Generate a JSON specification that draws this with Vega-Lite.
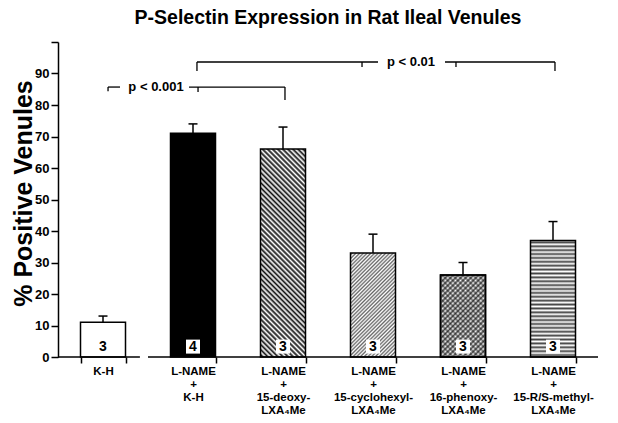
{
  "$schema": "https://vega.github.io/schema/vega-lite/v6.json",
  "width": 540,
  "height": 315,
  "autosize": {"type": "none"},
  "padding": {"left": 58, "top": 42, "right": 20, "bottom": 66},
  "background": "white",
  "config": {"view": {"stroke": null}, "font": "Liberation Sans"},
  "title": {"text": "P-Selectin Expression in Rat Ileal Venules", "fontSize": 19.5, "fontWeight": "bold", "font": "Liberation Sans", "color": "black", "anchor": "middle", "offset": 8},
  "datasets": {
    "bars": [
      {"id": "kh", "label": "K-H", "value": 11, "errTop": 13, "n": 3},
      {"id": "lk", "label": "L-NAME|+|K-H", "value": 71, "errTop": 74, "n": 4},
      {"id": "deoxy", "label": "L-NAME|+|15-deoxy-|LXA₄Me", "value": 66, "errTop": 73, "n": 3},
      {"id": "cyc", "label": "L-NAME|+|15-cyclohexyl-|LXA₄Me", "value": 33, "errTop": 39, "n": 3},
      {"id": "phen", "label": "L-NAME|+|16-phenoxy-|LXA₄Me", "value": 26, "errTop": 30, "n": 3},
      {"id": "meth", "label": "L-NAME|+|15-R/S-methyl-|LXA₄Me", "value": 37, "errTop": 43, "n": 3}
    ],
    "segs": [
      {"x1": 1.544, "x2": 3.556, "y1": 93.65, "y2": 93.65},
      {"x1": 4.3, "x2": 5.522, "y1": 93.65, "y2": 93.65},
      {"x1": 1.544, "x2": 1.544, "y1": 93.65, "y2": 90.8},
      {"x1": 5.522, "x2": 5.522, "y1": 93.65, "y2": 90.8},
      {"x1": 3.378, "x2": 3.378, "y1": 93.65, "y2": 92.1},
      {"x1": 4.422, "x2": 4.422, "y1": 93.65, "y2": 92.1},
      {"x1": 0.556, "x2": 0.689, "y1": 85.7, "y2": 85.7},
      {"x1": 1.456, "x2": 2.522, "y1": 85.7, "y2": 85.7},
      {"x1": 0.556, "x2": 0.556, "y1": 85.7, "y2": 84.4},
      {"x1": 1.556, "x2": 1.556, "y1": 85.7, "y2": 84.1},
      {"x1": 2.522, "x2": 2.522, "y1": 85.7, "y2": 81.6},
      {"x1": 0, "x2": 0.91, "y1": 0, "y2": 0},
      {"x1": 1.0, "x2": 6.0, "y1": 0, "y2": 0}
    ],
    "plabels": [
      {"x": 3.922, "y": 93.65, "text": "p < 0.01"},
      {"x": 1.089, "y": 85.7, "text": "p < 0.001"}
    ]
  },
  "resolve": {"scale": {"x": "independent"}, "axis": {"x": "independent"}},
  "layer": [
    {
      "data": {"name": "bars"},
      "encoding": {
        "x": {
          "field": "label", "type": "nominal", "sort": null, "title": null,
          "scale": {"type": "band", "paddingInner": 0.5, "paddingOuter": 0.25},
          "axis": {"labelExpr": "split(datum.label, '|')", "labelAngle": 0, "tickBand": "extent", "domain": false, "ticks": true, "tickSize": 6, "tickWidth": 1.5, "tickColor": "black", "labelFontSize": 11.5, "labelFontWeight": "bold", "labelColor": "black", "labelFont": "Liberation Sans", "labelLineHeight": 13, "labelPadding": 2, "labelOverlap": false, "labelLimit": 0, "title": null}
        }
      },
      "layer": [
        {
          "mark": {"type": "bar", "stroke": "black", "strokeWidth": 1.5},
          "encoding": {
            "y": {"field": "value", "type": "quantitative", "title": "% Positive Venules",
              "scale": {"domain": [0, 100], "nice": false},
              "axis": {"values": [0, 10, 20, 30, 40, 50, 60, 70, 80, 90, 100], "labelExpr": "datum.value == 100 ? '' : datum.label", "labelOverlap": false, "grid": false, "tickSize": 7, "tickWidth": 1.5, "tickColor": "black", "domainWidth": 1.5, "domainColor": "black", "labelColor": "black", "labelFontSize": 13, "labelFontWeight": "bold", "labelFont": "Liberation Sans", "labelPadding": 2, "titleFontSize": 25, "titleFontWeight": "bold", "titleFont": "Liberation Sans", "titleColor": "black", "titleX": -35, "titleY": 151, "titleAngle": -90, "titleAlign": "center", "titleBaseline": "middle"}
            },
            "fill": {
              "condition": [
                {"test": "datum.id === 'lk'", "value": "black"},
                {"test": "datum.id === 'deoxy'", "value": {"gradient": "linear", "x1": 0, "y1": 1, "x2": 0.2515, "y2": -0.162, "stops": [
                  {"offset": 0, "color": "#fff"}, {"offset": 0.01, "color": "#111"}, {"offset": 0.02, "color": "#fff"}, {"offset": 0.03, "color": "#111"}, {"offset": 0.04, "color": "#fff"}, {"offset": 0.05, "color": "#111"}, {"offset": 0.06, "color": "#fff"}, {"offset": 0.07, "color": "#111"}, {"offset": 0.08, "color": "#fff"}, {"offset": 0.09, "color": "#111"},
                  {"offset": 0.1, "color": "#fff"}, {"offset": 0.11, "color": "#111"}, {"offset": 0.12, "color": "#fff"}, {"offset": 0.13, "color": "#111"}, {"offset": 0.14, "color": "#fff"}, {"offset": 0.15, "color": "#111"}, {"offset": 0.16, "color": "#fff"}, {"offset": 0.17, "color": "#111"}, {"offset": 0.18, "color": "#fff"}, {"offset": 0.19, "color": "#111"},
                  {"offset": 0.2, "color": "#fff"}, {"offset": 0.21, "color": "#111"}, {"offset": 0.22, "color": "#fff"}, {"offset": 0.23, "color": "#111"}, {"offset": 0.24, "color": "#fff"}, {"offset": 0.25, "color": "#111"}, {"offset": 0.26, "color": "#fff"}, {"offset": 0.27, "color": "#111"}, {"offset": 0.28, "color": "#fff"}, {"offset": 0.29, "color": "#111"},
                  {"offset": 0.3, "color": "#fff"}, {"offset": 0.31, "color": "#111"}, {"offset": 0.32, "color": "#fff"}, {"offset": 0.33, "color": "#111"}, {"offset": 0.34, "color": "#fff"}, {"offset": 0.35, "color": "#111"}, {"offset": 0.36, "color": "#fff"}, {"offset": 0.37, "color": "#111"}, {"offset": 0.38, "color": "#fff"}, {"offset": 0.39, "color": "#111"},
                  {"offset": 0.4, "color": "#fff"}, {"offset": 0.41, "color": "#111"}, {"offset": 0.42, "color": "#fff"}, {"offset": 0.43, "color": "#111"}, {"offset": 0.44, "color": "#fff"}, {"offset": 0.45, "color": "#111"}, {"offset": 0.46, "color": "#fff"}, {"offset": 0.47, "color": "#111"}, {"offset": 0.48, "color": "#fff"}, {"offset": 0.49, "color": "#111"},
                  {"offset": 0.5, "color": "#fff"}, {"offset": 0.51, "color": "#111"}, {"offset": 0.52, "color": "#fff"}, {"offset": 0.53, "color": "#111"}, {"offset": 0.54, "color": "#fff"}, {"offset": 0.55, "color": "#111"}, {"offset": 0.56, "color": "#fff"}, {"offset": 0.57, "color": "#111"}, {"offset": 0.58, "color": "#fff"}, {"offset": 0.59, "color": "#111"},
                  {"offset": 0.6, "color": "#fff"}, {"offset": 0.61, "color": "#111"}, {"offset": 0.62, "color": "#fff"}, {"offset": 0.63, "color": "#111"}, {"offset": 0.64, "color": "#fff"}, {"offset": 0.65, "color": "#111"}, {"offset": 0.66, "color": "#fff"}, {"offset": 0.67, "color": "#111"}, {"offset": 0.68, "color": "#fff"}, {"offset": 0.69, "color": "#111"},
                  {"offset": 0.7, "color": "#fff"}, {"offset": 0.71, "color": "#111"}, {"offset": 0.72, "color": "#fff"}, {"offset": 0.73, "color": "#111"}, {"offset": 0.74, "color": "#fff"}, {"offset": 0.75, "color": "#111"}, {"offset": 0.76, "color": "#fff"}, {"offset": 0.77, "color": "#111"}, {"offset": 0.78, "color": "#fff"}, {"offset": 0.79, "color": "#111"},
                  {"offset": 0.8, "color": "#fff"}, {"offset": 0.81, "color": "#111"}, {"offset": 0.82, "color": "#fff"}, {"offset": 0.83, "color": "#111"}, {"offset": 0.84, "color": "#fff"}, {"offset": 0.85, "color": "#111"}, {"offset": 0.86, "color": "#fff"}, {"offset": 0.87, "color": "#111"}, {"offset": 0.88, "color": "#fff"}, {"offset": 0.89, "color": "#111"},
                  {"offset": 0.9, "color": "#fff"}, {"offset": 0.91, "color": "#111"}, {"offset": 0.92, "color": "#fff"}, {"offset": 0.93, "color": "#111"}, {"offset": 0.94, "color": "#fff"}, {"offset": 0.95, "color": "#111"}, {"offset": 0.96, "color": "#fff"}, {"offset": 0.97, "color": "#111"}, {"offset": 0.98, "color": "#fff"}, {"offset": 0.99, "color": "#111"},
                  {"offset": 1, "color": "#fff"}]}},
                {"test": "datum.id === 'cyc'", "value": {"gradient": "linear", "x1": 0, "y1": 0, "x2": 0.5221, "y2": 1.2067, "stops": [
                  {"offset": 0, "color": "#fff"}, {"offset": 0.0125, "color": "#666"}, {"offset": 0.025, "color": "#fff"}, {"offset": 0.0375, "color": "#666"}, {"offset": 0.05, "color": "#fff"}, {"offset": 0.0625, "color": "#666"}, {"offset": 0.075, "color": "#fff"}, {"offset": 0.0875, "color": "#666"},
                  {"offset": 0.1, "color": "#fff"}, {"offset": 0.1125, "color": "#666"}, {"offset": 0.125, "color": "#fff"}, {"offset": 0.1375, "color": "#666"}, {"offset": 0.15, "color": "#fff"}, {"offset": 0.1625, "color": "#666"}, {"offset": 0.175, "color": "#fff"}, {"offset": 0.1875, "color": "#666"},
                  {"offset": 0.2, "color": "#fff"}, {"offset": 0.2125, "color": "#666"}, {"offset": 0.225, "color": "#fff"}, {"offset": 0.2375, "color": "#666"}, {"offset": 0.25, "color": "#fff"}, {"offset": 0.2625, "color": "#666"}, {"offset": 0.275, "color": "#fff"}, {"offset": 0.2875, "color": "#666"},
                  {"offset": 0.3, "color": "#fff"}, {"offset": 0.3125, "color": "#666"}, {"offset": 0.325, "color": "#fff"}, {"offset": 0.3375, "color": "#666"}, {"offset": 0.35, "color": "#fff"}, {"offset": 0.3625, "color": "#666"}, {"offset": 0.375, "color": "#fff"}, {"offset": 0.3875, "color": "#666"},
                  {"offset": 0.4, "color": "#fff"}, {"offset": 0.4125, "color": "#666"}, {"offset": 0.425, "color": "#fff"}, {"offset": 0.4375, "color": "#666"}, {"offset": 0.45, "color": "#fff"}, {"offset": 0.4625, "color": "#666"}, {"offset": 0.475, "color": "#fff"}, {"offset": 0.4875, "color": "#666"},
                  {"offset": 0.5, "color": "#fff"}, {"offset": 0.5125, "color": "#666"}, {"offset": 0.525, "color": "#fff"}, {"offset": 0.5375, "color": "#666"}, {"offset": 0.55, "color": "#fff"}, {"offset": 0.5625, "color": "#666"}, {"offset": 0.575, "color": "#fff"}, {"offset": 0.5875, "color": "#666"},
                  {"offset": 0.6, "color": "#fff"}, {"offset": 0.6125, "color": "#666"}, {"offset": 0.625, "color": "#fff"}, {"offset": 0.6375, "color": "#666"}, {"offset": 0.65, "color": "#fff"}, {"offset": 0.6625, "color": "#666"}, {"offset": 0.675, "color": "#fff"}, {"offset": 0.6875, "color": "#666"},
                  {"offset": 0.7, "color": "#fff"}, {"offset": 0.7125, "color": "#666"}, {"offset": 0.725, "color": "#fff"}, {"offset": 0.7375, "color": "#666"}, {"offset": 0.75, "color": "#fff"}, {"offset": 0.7625, "color": "#666"}, {"offset": 0.775, "color": "#fff"}, {"offset": 0.7875, "color": "#666"},
                  {"offset": 0.8, "color": "#fff"}, {"offset": 0.8125, "color": "#666"}, {"offset": 0.825, "color": "#fff"}, {"offset": 0.8375, "color": "#666"}, {"offset": 0.85, "color": "#fff"}, {"offset": 0.8625, "color": "#666"}, {"offset": 0.875, "color": "#fff"}, {"offset": 0.8875, "color": "#666"},
                  {"offset": 0.9, "color": "#fff"}, {"offset": 0.9125, "color": "#666"}, {"offset": 0.925, "color": "#fff"}, {"offset": 0.9375, "color": "#666"}, {"offset": 0.95, "color": "#fff"}, {"offset": 0.9625, "color": "#666"}, {"offset": 0.975, "color": "#fff"}, {"offset": 0.9875, "color": "#666"},
                  {"offset": 1, "color": "#fff"}]}},
                {"test": "datum.id === 'phen'", "value": {"gradient": "linear", "x1": 0, "y1": 0, "x2": 0.6539, "y2": 1.1901, "stops": [
                  {"offset": 0, "color": "#fff"}, {"offset": 0.02, "color": "#555"}, {"offset": 0.04, "color": "#fff"}, {"offset": 0.06, "color": "#555"}, {"offset": 0.08, "color": "#fff"},
                  {"offset": 0.1, "color": "#555"}, {"offset": 0.12, "color": "#fff"}, {"offset": 0.14, "color": "#555"}, {"offset": 0.16, "color": "#fff"}, {"offset": 0.18, "color": "#555"},
                  {"offset": 0.2, "color": "#fff"}, {"offset": 0.22, "color": "#555"}, {"offset": 0.24, "color": "#fff"}, {"offset": 0.26, "color": "#555"}, {"offset": 0.28, "color": "#fff"},
                  {"offset": 0.3, "color": "#555"}, {"offset": 0.32, "color": "#fff"}, {"offset": 0.34, "color": "#555"}, {"offset": 0.36, "color": "#fff"}, {"offset": 0.38, "color": "#555"},
                  {"offset": 0.4, "color": "#fff"}, {"offset": 0.42, "color": "#555"}, {"offset": 0.44, "color": "#fff"}, {"offset": 0.46, "color": "#555"}, {"offset": 0.48, "color": "#fff"},
                  {"offset": 0.5, "color": "#555"}, {"offset": 0.52, "color": "#fff"}, {"offset": 0.54, "color": "#555"}, {"offset": 0.56, "color": "#fff"}, {"offset": 0.58, "color": "#555"},
                  {"offset": 0.6, "color": "#fff"}, {"offset": 0.62, "color": "#555"}, {"offset": 0.64, "color": "#fff"}, {"offset": 0.66, "color": "#555"}, {"offset": 0.68, "color": "#fff"},
                  {"offset": 0.7, "color": "#555"}, {"offset": 0.72, "color": "#fff"}, {"offset": 0.74, "color": "#555"}, {"offset": 0.76, "color": "#fff"}, {"offset": 0.78, "color": "#555"},
                  {"offset": 0.8, "color": "#fff"}, {"offset": 0.82, "color": "#555"}, {"offset": 0.84, "color": "#fff"}, {"offset": 0.86, "color": "#555"}, {"offset": 0.88, "color": "#fff"},
                  {"offset": 0.9, "color": "#555"}, {"offset": 0.92, "color": "#fff"}, {"offset": 0.94, "color": "#555"}, {"offset": 0.96, "color": "#fff"}, {"offset": 0.98, "color": "#555"},
                  {"offset": 1, "color": "#fff"}]}},
                {"test": "datum.id === 'meth'", "value": {"gradient": "linear", "x1": 0, "y1": 0, "x2": 0, "y2": 1, "stops": [
                  {"offset": 0, "color": "#fff"}, {"offset": 0.01667, "color": "#444"}, {"offset": 0.03333, "color": "#fff"}, {"offset": 0.05, "color": "#444"}, {"offset": 0.06667, "color": "#fff"}, {"offset": 0.08333, "color": "#444"},
                  {"offset": 0.1, "color": "#fff"}, {"offset": 0.11667, "color": "#444"}, {"offset": 0.13333, "color": "#fff"}, {"offset": 0.15, "color": "#444"}, {"offset": 0.16667, "color": "#fff"}, {"offset": 0.18333, "color": "#444"},
                  {"offset": 0.2, "color": "#fff"}, {"offset": 0.21667, "color": "#444"}, {"offset": 0.23333, "color": "#fff"}, {"offset": 0.25, "color": "#444"}, {"offset": 0.26667, "color": "#fff"}, {"offset": 0.28333, "color": "#444"},
                  {"offset": 0.3, "color": "#fff"}, {"offset": 0.31667, "color": "#444"}, {"offset": 0.33333, "color": "#fff"}, {"offset": 0.35, "color": "#444"}, {"offset": 0.36667, "color": "#fff"}, {"offset": 0.38333, "color": "#444"},
                  {"offset": 0.4, "color": "#fff"}, {"offset": 0.41667, "color": "#444"}, {"offset": 0.43333, "color": "#fff"}, {"offset": 0.45, "color": "#444"}, {"offset": 0.46667, "color": "#fff"}, {"offset": 0.48333, "color": "#444"},
                  {"offset": 0.5, "color": "#fff"}, {"offset": 0.51667, "color": "#444"}, {"offset": 0.53333, "color": "#fff"}, {"offset": 0.55, "color": "#444"}, {"offset": 0.56667, "color": "#fff"}, {"offset": 0.58333, "color": "#444"},
                  {"offset": 0.6, "color": "#fff"}, {"offset": 0.61667, "color": "#444"}, {"offset": 0.63333, "color": "#fff"}, {"offset": 0.65, "color": "#444"}, {"offset": 0.66667, "color": "#fff"}, {"offset": 0.68333, "color": "#444"},
                  {"offset": 0.7, "color": "#fff"}, {"offset": 0.71667, "color": "#444"}, {"offset": 0.73333, "color": "#fff"}, {"offset": 0.75, "color": "#444"}, {"offset": 0.76667, "color": "#fff"}, {"offset": 0.78333, "color": "#444"},
                  {"offset": 0.8, "color": "#fff"}, {"offset": 0.81667, "color": "#444"}, {"offset": 0.83333, "color": "#fff"}, {"offset": 0.85, "color": "#444"}, {"offset": 0.86667, "color": "#fff"}, {"offset": 0.88333, "color": "#444"},
                  {"offset": 0.9, "color": "#fff"}, {"offset": 0.91667, "color": "#444"}, {"offset": 0.93333, "color": "#fff"}, {"offset": 0.95, "color": "#444"}, {"offset": 0.96667, "color": "#fff"}, {"offset": 0.98333, "color": "#444"},
                  {"offset": 1, "color": "#fff"}]}}
              ],
              "value": "white"
            }
          }
        },
        {
          "transform": [{"filter": "datum.id === 'phen'"}],
          "mark": {"type": "bar", "stroke": "black", "strokeWidth": 1.5, "fill": {"gradient": "linear", "x1": 0, "y1": 1, "x2": 0.6539, "y2": -0.1901, "stops": [
            {"offset": 0, "color": "rgba(0,0,0,0)"}, {"offset": 0.02, "color": "rgba(0,0,0,0.5)"}, {"offset": 0.04, "color": "rgba(0,0,0,0)"}, {"offset": 0.06, "color": "rgba(0,0,0,0.5)"}, {"offset": 0.08, "color": "rgba(0,0,0,0)"},
            {"offset": 0.1, "color": "rgba(0,0,0,0.5)"}, {"offset": 0.12, "color": "rgba(0,0,0,0)"}, {"offset": 0.14, "color": "rgba(0,0,0,0.5)"}, {"offset": 0.16, "color": "rgba(0,0,0,0)"}, {"offset": 0.18, "color": "rgba(0,0,0,0.5)"},
            {"offset": 0.2, "color": "rgba(0,0,0,0)"}, {"offset": 0.22, "color": "rgba(0,0,0,0.5)"}, {"offset": 0.24, "color": "rgba(0,0,0,0)"}, {"offset": 0.26, "color": "rgba(0,0,0,0.5)"}, {"offset": 0.28, "color": "rgba(0,0,0,0)"},
            {"offset": 0.3, "color": "rgba(0,0,0,0.5)"}, {"offset": 0.32, "color": "rgba(0,0,0,0)"}, {"offset": 0.34, "color": "rgba(0,0,0,0.5)"}, {"offset": 0.36, "color": "rgba(0,0,0,0)"}, {"offset": 0.38, "color": "rgba(0,0,0,0.5)"},
            {"offset": 0.4, "color": "rgba(0,0,0,0)"}, {"offset": 0.42, "color": "rgba(0,0,0,0.5)"}, {"offset": 0.44, "color": "rgba(0,0,0,0)"}, {"offset": 0.46, "color": "rgba(0,0,0,0.5)"}, {"offset": 0.48, "color": "rgba(0,0,0,0)"},
            {"offset": 0.5, "color": "rgba(0,0,0,0.5)"}, {"offset": 0.52, "color": "rgba(0,0,0,0)"}, {"offset": 0.54, "color": "rgba(0,0,0,0.5)"}, {"offset": 0.56, "color": "rgba(0,0,0,0)"}, {"offset": 0.58, "color": "rgba(0,0,0,0.5)"},
            {"offset": 0.6, "color": "rgba(0,0,0,0)"}, {"offset": 0.62, "color": "rgba(0,0,0,0.5)"}, {"offset": 0.64, "color": "rgba(0,0,0,0)"}, {"offset": 0.66, "color": "rgba(0,0,0,0.5)"}, {"offset": 0.68, "color": "rgba(0,0,0,0)"},
            {"offset": 0.7, "color": "rgba(0,0,0,0.5)"}, {"offset": 0.72, "color": "rgba(0,0,0,0)"}, {"offset": 0.74, "color": "rgba(0,0,0,0.5)"}, {"offset": 0.76, "color": "rgba(0,0,0,0)"}, {"offset": 0.78, "color": "rgba(0,0,0,0.5)"},
            {"offset": 0.8, "color": "rgba(0,0,0,0)"}, {"offset": 0.82, "color": "rgba(0,0,0,0.5)"}, {"offset": 0.84, "color": "rgba(0,0,0,0)"}, {"offset": 0.86, "color": "rgba(0,0,0,0.5)"}, {"offset": 0.88, "color": "rgba(0,0,0,0)"},
            {"offset": 0.9, "color": "rgba(0,0,0,0.5)"}, {"offset": 0.92, "color": "rgba(0,0,0,0)"}, {"offset": 0.94, "color": "rgba(0,0,0,0.5)"}, {"offset": 0.96, "color": "rgba(0,0,0,0)"}, {"offset": 0.98, "color": "rgba(0,0,0,0.5)"},
            {"offset": 1, "color": "rgba(0,0,0,0)"}]}},
          "encoding": {
            "y": {"field": "value", "type": "quantitative", "title": "% Positive Venules",
              "axis": {"values": [0, 10, 20, 30, 40, 50, 60, 70, 80, 90, 100], "labelExpr": "datum.value == 100 ? '' : datum.label", "labelOverlap": false, "grid": false, "tickSize": 7, "tickWidth": 1.5, "tickColor": "black", "domainWidth": 1.5, "domainColor": "black", "labelColor": "black", "labelFontSize": 13, "labelFontWeight": "bold", "labelFont": "Liberation Sans", "labelPadding": 2, "titleFontSize": 25, "titleFontWeight": "bold", "titleFont": "Liberation Sans", "titleColor": "black", "titleX": -35, "titleY": 151, "titleAngle": -90, "titleAlign": "center", "titleBaseline": "middle"}}
          }
        },
        {
          "mark": {"type": "rule", "strokeWidth": 1.5, "color": "black"},
          "encoding": {
            "y": {"field": "value", "type": "quantitative", "title": "% Positive Venules",
              "axis": {"values": [0, 10, 20, 30, 40, 50, 60, 70, 80, 90, 100], "labelExpr": "datum.value == 100 ? '' : datum.label", "labelOverlap": false, "grid": false, "tickSize": 7, "tickWidth": 1.5, "tickColor": "black", "domainWidth": 1.5, "domainColor": "black", "labelColor": "black", "labelFontSize": 13, "labelFontWeight": "bold", "labelFont": "Liberation Sans", "labelPadding": 2, "titleFontSize": 25, "titleFontWeight": "bold", "titleFont": "Liberation Sans", "titleColor": "black", "titleX": -35, "titleY": 151, "titleAngle": -90, "titleAlign": "center", "titleBaseline": "middle"}},
            "y2": {"field": "errTop"}
          }
        },
        {
          "mark": {"type": "tick", "size": 9, "thickness": 1.5, "color": "black", "orient": "horizontal", "opacity": 1},
          "encoding": {
            "y": {"field": "errTop", "type": "quantitative", "title": "% Positive Venules",
              "axis": {"values": [0, 10, 20, 30, 40, 50, 60, 70, 80, 90, 100], "labelExpr": "datum.value == 100 ? '' : datum.label", "labelOverlap": false, "grid": false, "tickSize": 7, "tickWidth": 1.5, "tickColor": "black", "domainWidth": 1.5, "domainColor": "black", "labelColor": "black", "labelFontSize": 13, "labelFontWeight": "bold", "labelFont": "Liberation Sans", "labelPadding": 2, "titleFontSize": 25, "titleFontWeight": "bold", "titleFont": "Liberation Sans", "titleColor": "black", "titleX": -35, "titleY": 151, "titleAngle": -90, "titleAlign": "center", "titleBaseline": "middle"}}
          }
        },
        {
          "mark": {"type": "point", "shape": "square", "size": 196, "filled": true, "color": "white", "opacity": 1},
          "encoding": {
            "y": {"datum": 3.3, "type": "quantitative", "title": "% Positive Venules",
              "axis": {"values": [0, 10, 20, 30, 40, 50, 60, 70, 80, 90, 100], "labelExpr": "datum.value == 100 ? '' : datum.label", "labelOverlap": false, "grid": false, "tickSize": 7, "tickWidth": 1.5, "tickColor": "black", "domainWidth": 1.5, "domainColor": "black", "labelColor": "black", "labelFontSize": 13, "labelFontWeight": "bold", "labelFont": "Liberation Sans", "labelPadding": 2, "titleFontSize": 25, "titleFontWeight": "bold", "titleFont": "Liberation Sans", "titleColor": "black", "titleX": -35, "titleY": 151, "titleAngle": -90, "titleAlign": "center", "titleBaseline": "middle"}}
          }
        },
        {
          "mark": {"type": "text", "fontSize": 14, "fontWeight": "bold", "color": "black", "baseline": "middle", "font": "Liberation Sans"},
          "encoding": {
            "y": {"datum": 3.3, "type": "quantitative", "title": "% Positive Venules",
              "axis": {"values": [0, 10, 20, 30, 40, 50, 60, 70, 80, 90, 100], "labelExpr": "datum.value == 100 ? '' : datum.label", "labelOverlap": false, "grid": false, "tickSize": 7, "tickWidth": 1.5, "tickColor": "black", "domainWidth": 1.5, "domainColor": "black", "labelColor": "black", "labelFontSize": 13, "labelFontWeight": "bold", "labelFont": "Liberation Sans", "labelPadding": 2, "titleFontSize": 25, "titleFontWeight": "bold", "titleFont": "Liberation Sans", "titleColor": "black", "titleX": -35, "titleY": 151, "titleAngle": -90, "titleAlign": "center", "titleBaseline": "middle"}},
            "text": {"field": "n"}
          }
        }
      ]
    },
    {
      "layer": [
        {
          "data": {"name": "segs"},
          "mark": {"type": "rule", "strokeWidth": 1.3, "color": "black"},
          "encoding": {
            "x": {"field": "x1", "type": "quantitative", "scale": {"domain": [0, 6], "nice": false, "zero": false}, "axis": null},
            "x2": {"field": "x2"},
            "y": {"field": "y1", "type": "quantitative", "title": "% Positive Venules",
              "axis": {"values": [0, 10, 20, 30, 40, 50, 60, 70, 80, 90, 100], "labelExpr": "datum.value == 100 ? '' : datum.label", "labelOverlap": false, "grid": false, "tickSize": 7, "tickWidth": 1.5, "tickColor": "black", "domainWidth": 1.5, "domainColor": "black", "labelColor": "black", "labelFontSize": 13, "labelFontWeight": "bold", "labelFont": "Liberation Sans", "labelPadding": 2, "titleFontSize": 25, "titleFontWeight": "bold", "titleFont": "Liberation Sans", "titleColor": "black", "titleX": -35, "titleY": 151, "titleAngle": -90, "titleAlign": "center", "titleBaseline": "middle"}},
            "y2": {"field": "y2"}
          }
        },
        {
          "data": {"name": "plabels"},
          "mark": {"type": "text", "fontSize": 13, "fontWeight": "bold", "color": "black", "baseline": "middle", "font": "Liberation Sans"},
          "encoding": {
            "x": {"field": "x", "type": "quantitative", "scale": {"domain": [0, 6], "nice": false, "zero": false}, "axis": null},
            "y": {"field": "y", "type": "quantitative", "title": "% Positive Venules",
              "axis": {"values": [0, 10, 20, 30, 40, 50, 60, 70, 80, 90, 100], "labelExpr": "datum.value == 100 ? '' : datum.label", "labelOverlap": false, "grid": false, "tickSize": 7, "tickWidth": 1.5, "tickColor": "black", "domainWidth": 1.5, "domainColor": "black", "labelColor": "black", "labelFontSize": 13, "labelFontWeight": "bold", "labelFont": "Liberation Sans", "labelPadding": 2, "titleFontSize": 25, "titleFontWeight": "bold", "titleFont": "Liberation Sans", "titleColor": "black", "titleX": -35, "titleY": 151, "titleAngle": -90, "titleAlign": "center", "titleBaseline": "middle"}},
            "text": {"field": "text"}
          }
        }
      ]
    }
  ]
}
